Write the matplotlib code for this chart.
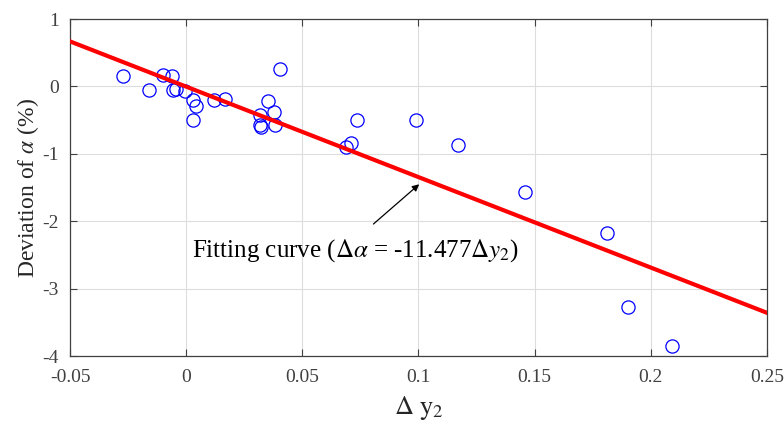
import matplotlib
matplotlib.use("Agg")
import matplotlib.pyplot as plt
import numpy as np

plt.rcParams['font.family'] = ['Liberation Serif', 'DejaVu Serif']
plt.rcParams['mathtext.fontset'] = 'stix'
plt.rcParams['axes.unicode_minus'] = False

# measured points
dy2 = [-0.027, -0.0158, -0.010, -0.0059, -0.0057, -0.0043, -0.0004, 0.0029,
       0.0042, 0.0029, 0.0118, 0.0169, 0.0316, 0.0318, 0.0321, 0.0354,
       0.0376, 0.0382, 0.0402, 0.0686, 0.0709, 0.0734, 0.099, 0.117,
       0.146, 0.1813, 0.1903, 0.209]
dalpha = [0.163, -0.049, 0.169, 0.154, -0.049, -0.03, -0.074, -0.198,
          -0.282, -0.495, -0.198, -0.188, -0.42, -0.569, -0.604, -0.208,
          -0.381, -0.569, 0.258, -0.892, -0.841, -0.495, -0.495, -0.871,
          -1.56, -2.169, -3.278, -3.843]

# fitted line as drawn
fit_slope = -13.42
fit_icpt = -0.002
fit_x = [-0.05, 0.25]

xticks = [-0.05, 0, 0.05, 0.1, 0.15, 0.2, 0.25]
xtick_labels = ['-0.05', '0', '0.05', '0.1', '0.15', '0.2', '0.25']
yticks = [-4, -3, -2, -1, 0, 1]

fig = plt.figure(figsize=(7.84, 4.24), dpi=100)
ax = fig.add_axes([0.0893, 0.160, 0.889, 0.795])

ax.plot(dy2, dalpha, 'o', mfc='none', mec='blue', ms=9.5, mew=0.9, zorder=3)
fx = np.array(fit_x)
ax.plot(fx, fit_slope * fx + fit_icpt, color='red', lw=3, zorder=4)

ax.set_xlim(-0.05, 0.25)
ax.set_ylim(-4, 1)
ax.set_xticks(xticks)
ax.set_xticklabels(xtick_labels)
ax.set_yticks(yticks)
ax.grid(True, color='#dddddd', lw=0.8)
ax.set_axisbelow(True)
ax.tick_params(direction='in', top=True, right=True, labelsize=14,
               colors='#404040', length=5, width=0.8)
ax.tick_params(axis='x', pad=9)
ax.tick_params(axis='y', pad=8)
for s in ax.spines.values():
    s.set_color('#404040')
    s.set_linewidth(0.9)

ax.set_xlabel(r'$\Delta\ \mathrm{y}_2$', fontsize=19, labelpad=6, color='#262626')
ax.set_ylabel(r'Deviation of $\alpha$ (%)', fontsize=17, labelpad=1, color='#262626')

ax.text(0.0026, -2.44, r'Fitting curve ($\Delta\alpha$ = -11.477$\Delta y_2$)',
        fontsize=18, ha='left', va='center')
ax.annotate('', xy=(0.1003, -1.45), xytext=(0.0806, -2.04),
            arrowprops=dict(arrowstyle='-|>', color='black', lw=0.9,
                            mutation_scale=10, shrinkA=0, shrinkB=0))

fig.savefig('out.png', dpi=100)
